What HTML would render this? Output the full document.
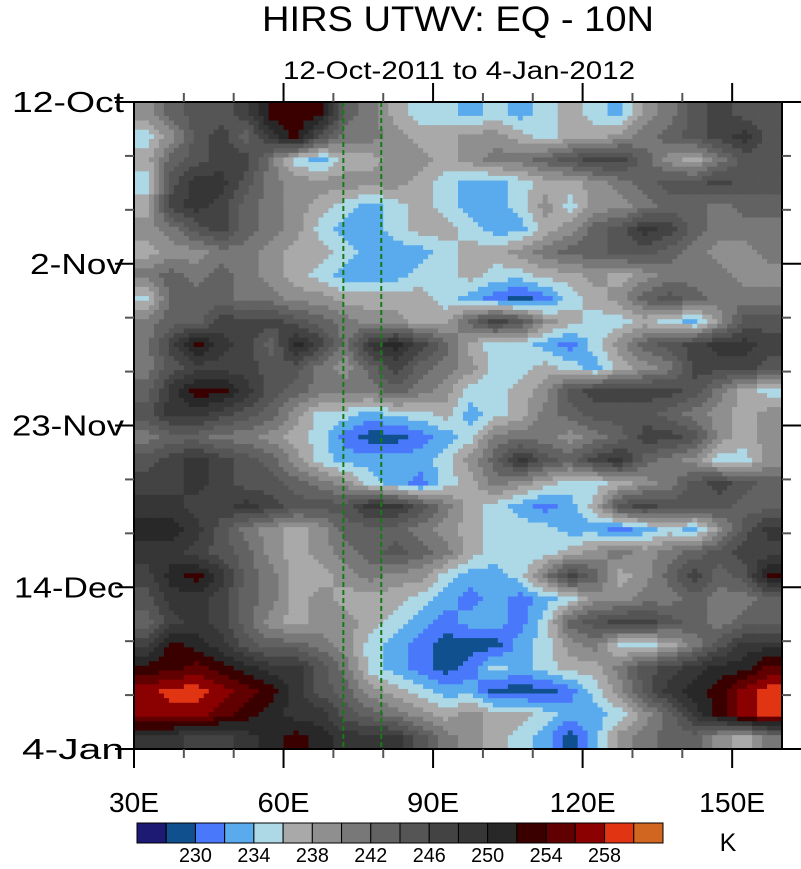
<!DOCTYPE html>
<html><head><meta charset="utf-8">
<style>
html,body{margin:0;padding:0;background:#fff;}
body{width:801px;height:864px;overflow:hidden;font-family:"Liberation Sans",Arial,sans-serif;}
</style></head>
<body>
<svg id="chart" width="801" height="864" viewBox="0 0 801 864" xmlns="http://www.w3.org/2000/svg">
<text x="458" y="31" text-anchor="middle" font-size="35" textLength="392" lengthAdjust="spacingAndGlyphs" font-family="Liberation Sans, sans-serif">HIRS UTWV: EQ - 10N</text>
<text x="459" y="79" text-anchor="middle" font-size="25" textLength="352" lengthAdjust="spacingAndGlyphs" font-family="Liberation Sans, sans-serif">12-Oct-2011 to 4-Jan-2012</text>
<g id="cells"></g>
<g id="overlay"></g>
<g id="axes"></g>
<g id="cbar"></g>
</svg>
<script>
// Data: longitude column starts (5° bins), 3-day row bins, values in K
const lonStarts = [30,35,40,45,50,55,60,65,70,75,80,85,90,95,100,105,110,115,120,125,130,135,140,145,150,155];
const dayStarts = [0,3,6,9,12,15,18,21,24,27,30,33,36,39,42,45,48,51,54,57,60,63,66,69,72,75,78,81];
const values = [
[239,243,245,245,247,253,253,253,243,241,237,235,235,233,235,233,235,237,235,233,239,241,245,247,245,245],
[235,239,245,247,243,249,253,245,241,241,239,237,237,239,239,237,235,237,237,239,241,243,245,247,249,245],
[237,243,245,247,247,241,235,233,237,237,239,239,237,239,241,241,243,245,247,247,243,239,237,241,245,245],
[235,245,249,249,245,241,239,239,239,239,239,237,235,233,233,235,237,237,239,241,243,245,245,247,245,245],
[237,247,249,247,243,241,239,237,235,233,235,237,235,233,233,235,239,235,239,239,241,243,243,241,243,243],
[239,241,245,247,243,241,239,235,233,233,235,237,237,235,233,233,237,239,243,245,249,247,243,241,241,241],
[237,239,239,241,241,239,237,237,235,233,233,233,235,237,237,239,241,243,243,245,245,243,241,239,239,241],
[241,243,241,243,241,239,237,235,233,233,233,235,235,237,235,235,237,237,239,237,239,241,241,241,239,239],
[235,243,243,243,241,241,239,239,237,237,237,237,235,233,231,229,231,235,237,239,243,245,243,241,241,241],
[241,243,243,247,247,247,245,243,241,239,239,237,237,243,247,245,239,237,235,235,237,235,233,239,245,245],
[241,247,253,249,247,243,251,247,241,249,251,247,243,237,235,235,233,231,235,239,243,245,247,249,249,247],
[241,245,247,247,247,245,245,241,239,243,247,243,241,239,235,235,237,235,233,237,239,241,247,247,247,245],
[243,249,253,253,249,245,243,241,241,241,243,241,239,235,235,237,239,245,247,247,247,247,245,241,237,235],
[245,249,249,247,245,243,239,235,235,233,235,235,237,233,235,237,241,243,245,245,245,243,241,239,237,239],
[241,243,243,241,241,239,237,235,231,229,229,231,233,235,241,241,241,239,241,243,247,247,245,239,237,239],
[245,247,249,247,245,243,239,235,233,233,233,233,235,239,243,249,245,243,247,249,243,241,239,235,235,239],
[247,247,249,247,245,245,243,241,239,235,233,231,235,237,241,239,237,235,235,237,239,241,245,247,245,243],
[249,249,247,247,249,247,245,245,245,249,249,245,241,237,235,233,231,233,237,245,247,245,245,245,243,243],
[251,251,249,245,241,239,237,239,243,243,243,241,239,237,235,235,235,233,233,231,233,235,233,239,245,249],
[249,249,247,245,243,239,237,239,241,243,245,243,241,237,235,235,235,237,239,241,239,241,243,245,247,247],
[247,251,253,249,243,241,237,237,239,241,239,239,235,233,233,235,241,247,243,237,239,243,247,243,245,253],
[245,249,249,247,243,241,237,239,237,237,237,235,233,231,233,231,233,235,239,239,241,241,243,241,241,243],
[243,247,249,247,243,239,237,239,239,237,235,233,231,233,233,231,235,243,245,247,247,245,243,241,243,243],
[247,253,251,249,245,243,243,241,239,235,233,231,229,229,229,233,235,239,241,235,235,237,241,245,249,249],
[253,253,255,253,251,249,249,245,241,235,233,231,229,231,235,233,235,237,237,241,245,247,249,251,251,255],
[257,259,259,257,255,253,249,245,243,239,237,235,233,233,229,229,229,231,235,239,245,249,251,253,257,259],
[257,257,257,255,253,251,249,249,245,243,241,239,237,239,237,237,235,233,233,235,239,243,249,253,257,259],
[249,249,247,247,249,251,253,251,249,249,249,245,241,239,237,235,233,229,233,239,241,243,243,239,237,241]
];
const levels = [228,230,232,234,236,238,240,242,244,246,248,250,252,254,256,258,260];
const levelLabels = [230,234,238,242,246,250,254,258];
const xTickLabels = ["30E","60E","90E","120E","150E"];
const xTickValues = [30,60,90,120,150];
const yTickLabels = ["12-Oct","2-Nov","23-Nov","14-Dec","4-Jan"];
const yTickValues = [0,21,42,63,84];
const refLons = [72,79.6];

const colors = ["#1c1a72","#10508f","#4a78fb","#5aaaee","#add8e6","#a9a9a9","#8f8f8f","#787878","#626262","#555555","#434343","#363636","#282828","#3a0000","#600000","#8b0000","#e03412","#d0661f"];
const NS="http://www.w3.org/2000/svg";
const X0=134,X1=782,Y0=102,Y1=749,LON0=30,LON1=160,D0=0,D1=84;
const xs=l=>X0+(l-LON0)*(X1-X0)/(LON1-LON0);
const ys=d=>Y0+(d-D0)*(Y1-Y0)/(D1-D0);
function colorFor(v){let i=0;while(i<levels.length&&v>=levels[i])i++;return colors[i];}
function mk(tag,attrs,parent){const e=document.createElementNS(NS,tag);for(const k in attrs)e.setAttribute(k,attrs[k]);parent.appendChild(e);return e;}

// render: smooth field sampled between cell centres (display only)
const nR=values.length,nC=values[0].length,SUB=5;
function sample(fr,fc){
  fr=Math.max(0,Math.min(nR-1,fr));fc=Math.max(0,Math.min(nC-1,fc));
  const r0=Math.floor(fr),c0=Math.floor(fc),r1=Math.min(nR-1,r0+1),c1=Math.min(nC-1,c0+1);
  const tr=fr-r0,tc=fc-c0;
  return values[r0][c0]*(1-tr)*(1-tc)+values[r0][c1]*(1-tr)*tc+values[r1][c0]*tr*(1-tc)+values[r1][c1]*tr*tc;
}
const cells=document.getElementById('cells');
values.forEach((row,r)=>{row.forEach((v,c)=>{
  const x=xs(lonStarts[c]),xe=xs(c+1<lonStarts.length?lonStarts[c+1]:LON1);
  const y=ys(dayStarts[r]),ye=ys(r+1<dayStarts.length?dayStarts[r+1]:D1);
  const w=(xe-x)/SUB,h=(ye-y)/SUB;
  for(let i=0;i<SUB;i++)for(let j=0;j<SUB;j++){
    const val=sample(r-0.5+(i+0.5)/SUB,c-0.5+(j+0.5)/SUB);
    const el=mk('rect',{x:x+j*w,y:y+i*h,width:w+0.4,height:h+0.4,fill:colorFor(val)},cells);
    
    
  }
});});

const ov=document.getElementById('overlay');
refLons.forEach(l=>{
  const el=mk('line',{x1:xs(l),x2:xs(l),y1:Y0,y2:Y1,stroke:'#167a16','stroke-width':2,'stroke-dasharray':'5,3'},ov);
  
  
});

const ax=document.getElementById('axes');
const frame=mk('rect',{x:X0,y:Y0,width:X1-X0,height:Y1-Y0,fill:'none',stroke:'#000','stroke-width':2},ax);


for(let l=40;l<160;l+=10){
  const maj=xTickValues.includes(l);const len=maj?19:9;const x=xs(l);
  mk('line',{x1:x,x2:x,y1:Y1,y2:Y1+len,stroke:maj?'#000':'#555','stroke-width':2},ax);
  mk('line',{x1:x,x2:x,y1:Y0,y2:Y0-len,stroke:maj?'#000':'#555','stroke-width':2},ax);
}
mk('line',{x1:X0,x2:X0,y1:Y1,y2:Y1+19,stroke:'#000','stroke-width':2},ax);
const xW=[50,52,52,66,66];
xTickLabels.forEach((t,i)=>{
  const el=mk('text',{x:xs(xTickValues[i]),y:812,'text-anchor':'middle','font-size':28,textLength:xW[i],lengthAdjust:'spacingAndGlyphs','font-family':'Liberation Sans, sans-serif'},ax);
  el.textContent=t;
  
  
});
for(let d=7;d<84;d+=7){
  const maj=yTickValues.includes(d);const len=maj?19:9;const y=ys(d);
  mk('line',{x1:X0,x2:X0-len,y1:y,y2:y,stroke:maj?'#000':'#555','stroke-width':2},ax);
  mk('line',{x1:X1,x2:X1+len,y1:y,y2:y,stroke:maj?'#000':'#555','stroke-width':2},ax);
}
[0,84].forEach(d=>{const y=ys(d);
  mk('line',{x1:X0,x2:X0-19,y1:y,y2:y,stroke:'#000','stroke-width':2},ax);
  mk('line',{x1:X1,x2:X1+19,y1:y,y2:y,stroke:'#000','stroke-width':2},ax);});
const yW=[112,94,112,110,102];
yTickLabels.forEach((t,i)=>{
  const el=mk('text',{x:124,y:ys(yTickValues[i])+10,'text-anchor':'end','font-size':29,textLength:yW[i],lengthAdjust:'spacingAndGlyphs','font-family':'Liberation Sans, sans-serif'},ax);
  el.textContent=t;
  
  
});

const cb=document.getElementById('cbar');
const CBX0=137,CBX1=663,CBY=823,CBH=20,bw=(CBX1-CBX0)/colors.length;
colors.forEach((c,i)=>{
  const el=mk('rect',{x:CBX0+i*bw,y:CBY,width:bw,height:CBH,fill:c,stroke:'#000','stroke-width':1},cb);
  
  
});
levelLabels.forEach(v=>{
  const i=levels.indexOf(v)+1;
  const el=mk('text',{x:CBX0+i*bw,y:862,'text-anchor':'middle','font-size':20,textLength:33,lengthAdjust:'spacingAndGlyphs','font-family':'Liberation Sans, sans-serif'},cb);
  el.textContent=v;
  
  
});
const k=mk('text',{x:728,y:851,'text-anchor':'middle','font-size':25,'font-family':'Liberation Sans, sans-serif'},cb);
k.textContent='K';


</script>
</body></html>
